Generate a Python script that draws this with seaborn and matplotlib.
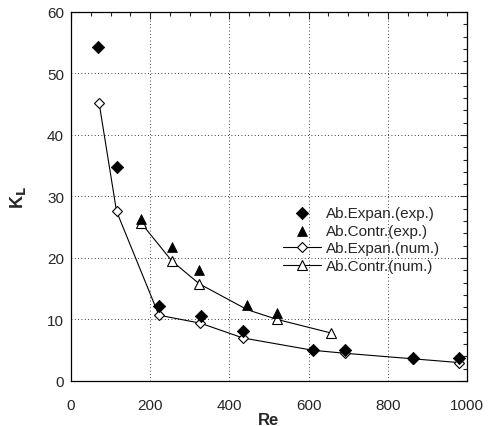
import matplotlib
matplotlib.use("Agg")
import matplotlib.pyplot as plt
import seaborn as sns
import pandas as pd
from matplotlib.ticker import MultipleLocator

# ---- data ----
re_exp_expan = [68, 116, 222, 328, 435, 610, 693, 865, 979]
kl_exp_expan = [54.3, 34.8, 12.2, 10.5, 8.1, 5.1, 5.1, 3.7, 3.7]

re_exp_contr = [177, 255, 323, 445, 521]
kl_exp_contr = [26.3, 21.8, 18.0, 12.3, 11.1]

re_num_expan = [71, 115, 222, 327, 434, 610, 693, 865, 979]
kl_num_expan = [45.2, 27.6, 10.7, 9.4, 7.0, 5.0, 4.5, 3.6, 3.0]

re_num_contr = [177, 255, 324, 445, 521, 657]
kl_num_contr = [25.7, 19.5, 15.8, 11.6, 10.0, 7.8]

labels = ["Ab.Expan.(exp.)", "Ab.Contr.(exp.)", "Ab.Expan.(num.)", "Ab.Contr.(num.)"]

sns.set_style("white")
plt.rcParams['font.family'] = ['Liberation Sans', 'DejaVu Sans']
plt.rcParams['xtick.direction'] = 'in'
plt.rcParams['ytick.direction'] = 'in'

fig = plt.figure(figsize=(4.91, 4.27), dpi=100)
ax = fig.add_axes([0.1446, 0.1054, 0.8064, 0.8642])

df_ne = pd.DataFrame({"Re": re_num_expan, "KL": kl_num_expan})
df_nc = pd.DataFrame({"Re": re_num_contr, "KL": kl_num_contr})
df_ee = pd.DataFrame({"Re": re_exp_expan, "KL": kl_exp_expan})
df_ec = pd.DataFrame({"Re": re_exp_contr, "KL": kl_exp_contr})

sns.lineplot(data=df_ne, x="Re", y="KL", ax=ax, color="black", lw=0.8,
             marker="D", markersize=5, markerfacecolor="white",
             markeredgecolor="black", markeredgewidth=0.8, label=labels[2], zorder=3)
sns.lineplot(data=df_nc, x="Re", y="KL", ax=ax, color="black", lw=0.8,
             marker="^", markersize=7, markerfacecolor="white",
             markeredgecolor="black", markeredgewidth=0.8, label=labels[3], zorder=3,
             markevery=[0, 1, 2, 4, 5])
sns.scatterplot(data=df_ee, x="Re", y="KL", ax=ax, marker="D", s=40,
                color="black", edgecolor="black", label=labels[0], zorder=4)
sns.scatterplot(data=df_ec, x="Re", y="KL", ax=ax, marker="^", s=50,
                color="black", edgecolor="black", label=labels[1], zorder=4)

ax.set_xlim(0, 1000)
ax.set_ylim(0, 60)
ax.xaxis.set_major_locator(MultipleLocator(200))
ax.xaxis.set_minor_locator(MultipleLocator(50))
ax.yaxis.set_major_locator(MultipleLocator(10))
ax.yaxis.set_minor_locator(MultipleLocator(2))
ax.tick_params(which="both", top=True, right=True, direction="in", width=0.8, labelsize=11)
ax.tick_params(which="major", length=5)
ax.tick_params(which="minor", length=3)
ax.tick_params(axis="x", which="major", pad=12)
ax.tick_params(axis="y", which="major", pad=5)
ax.grid(True, which="major", linestyle=(0, (1, 3)), color="black", lw=0.6)
for s in ax.spines.values():
    s.set_color("black")
    s.set_linewidth(0.9)

ax.set_xlabel("Re", fontsize=12, fontweight="bold", labelpad=0)
ax.set_ylabel("K$_\\mathbf{L}$", fontsize=13, fontweight="bold", labelpad=14)

handles, labs = ax.get_legend_handles_labels()
order = [labs.index(l) for l in labels]
ax.legend([handles[i] for i in order], [labs[i] for i in order],
          loc="upper left", bbox_to_anchor=(0.535, 0.475), frameon=False,
          borderpad=0, borderaxespad=0, handlelength=2.5, handletextpad=0.35,
          labelspacing=0.25, fontsize=11)

fig.savefig("out.png", dpi=100)
